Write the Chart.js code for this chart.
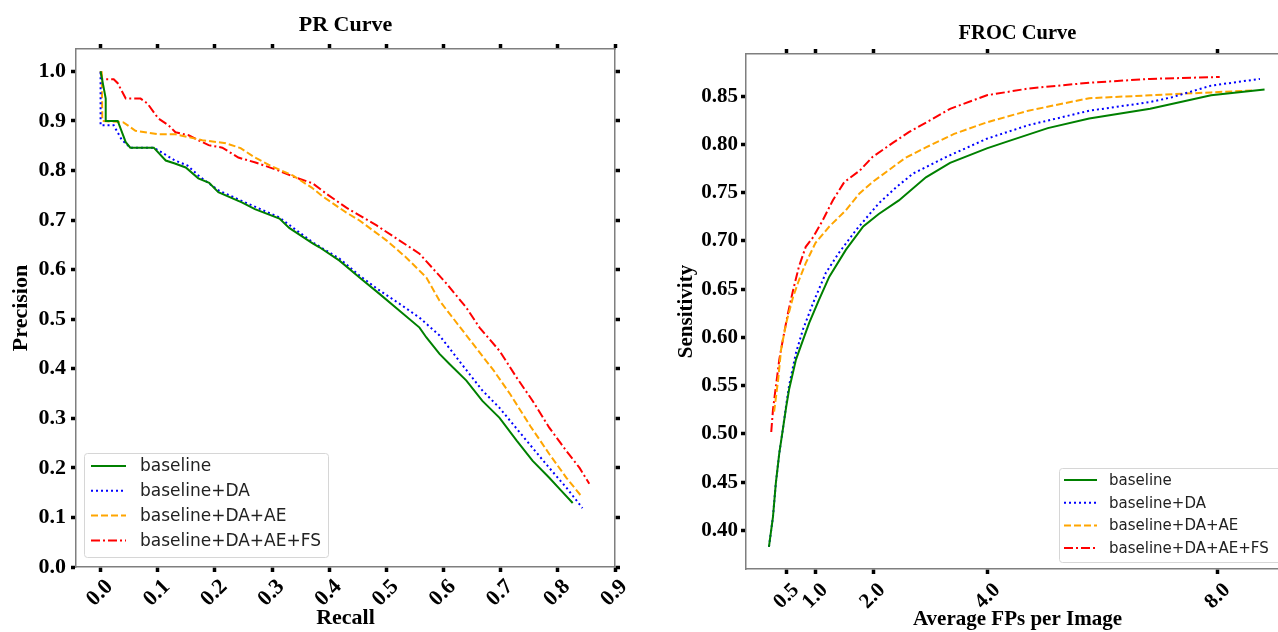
<!DOCTYPE html>
<html><head><meta charset="utf-8">
<script src="https://cdn.jsdelivr.net/npm/chart.js@4.4.0/dist/chart.umd.min.js"></script>
<style>
html,body{margin:0;padding:0;background:#fff;overflow:hidden;width:1278px;height:632px;position:relative;}
#c1{position:absolute;left:0;top:0;}
#c2{position:absolute;left:640px;top:0;}
</style></head><body>
<canvas id="c1" width="640" height="632"></canvas>
<canvas id="c2" width="649" height="632"></canvas>
<script>
// ---------- labels ----------
const seriesNames = ['baseline', 'baseline+DA', 'baseline+DA+AE', 'baseline+DA+AE+FS'];
const prTicksX = [0.0, 0.1, 0.2, 0.3, 0.4, 0.5, 0.6, 0.7, 0.8, 0.9];
const prTicksY = [0.0, 0.1, 0.2, 0.3, 0.4, 0.5, 0.6, 0.7, 0.8, 0.9, 1.0];
const frocTicksX = [0.5, 1.0, 2.0, 4.0, 8.0];
const frocTicksY = [0.40, 0.45, 0.50, 0.55, 0.60, 0.65, 0.70, 0.75, 0.80, 0.85];

// ---------- PR curve data ----------
const prBaseRecall = [0, 0.009, 0.009, 0.030, 0.044, 0.052, 0.093, 0.114, 0.13, 0.149, 0.171, 0.19, 0.206, 0.248, 0.27, 0.313, 0.33, 0.371, 0.383, 0.418, 0.453, 0.488, 0.523, 0.558, 0.570, 0.593, 0.61, 0.64, 0.668, 0.698, 0.728, 0.756, 0.785, 0.805, 0.826];
const prBasePrec   = [1.0, 0.945, 0.90, 0.90, 0.857, 0.846, 0.846, 0.82, 0.814, 0.806, 0.784, 0.775, 0.756, 0.735, 0.722, 0.703, 0.684, 0.653, 0.645, 0.618, 0.584, 0.551, 0.517, 0.483, 0.463, 0.43, 0.41, 0.376, 0.335, 0.301, 0.255, 0.214, 0.18, 0.155, 0.129];

const prDaRecall = [0, 0.0, 0.023, 0.037, 0.052, 0.093, 0.102, 0.13, 0.152, 0.173, 0.206, 0.248, 0.313, 0.371, 0.418, 0.453, 0.488, 0.523, 0.558, 0.593, 0.628, 0.668, 0.698, 0.728, 0.756, 0.785, 0.815, 0.843];
const prDaPrec   = [0.998, 0.891, 0.891, 0.862, 0.846, 0.846, 0.84, 0.82, 0.81, 0.788, 0.76, 0.738, 0.705, 0.655, 0.622, 0.588, 0.558, 0.531, 0.503, 0.467, 0.415, 0.356, 0.321, 0.279, 0.24, 0.2, 0.16, 0.119];

const prAeRecall = [0.002, 0.003, 0.04, 0.061, 0.10, 0.131, 0.178, 0.219, 0.245, 0.27, 0.30, 0.336, 0.37, 0.388, 0.402, 0.43, 0.453, 0.50, 0.535, 0.57, 0.593, 0.616, 0.657, 0.688, 0.717, 0.752, 0.785, 0.815, 0.841];
const prAePrec   = [1.0, 0.90, 0.897, 0.88, 0.873, 0.873, 0.861, 0.855, 0.845, 0.826, 0.808, 0.79, 0.765, 0.748, 0.737, 0.715, 0.699, 0.659, 0.624, 0.584, 0.537, 0.503, 0.442, 0.396, 0.348, 0.284, 0.228, 0.18, 0.143];

const prFsRecall = [0.0, 0.003, 0.023, 0.03, 0.044, 0.07, 0.082, 0.101, 0.119, 0.131, 0.154, 0.171, 0.189, 0.213, 0.241, 0.271, 0.311, 0.336, 0.371, 0.395, 0.43, 0.483, 0.52, 0.558, 0.605, 0.64, 0.663, 0.698, 0.728, 0.756, 0.785, 0.815, 0.838, 0.855];
const prFsPrec   = [1.0, 0.984, 0.984, 0.976, 0.945, 0.945, 0.935, 0.905, 0.891, 0.877, 0.871, 0.861, 0.851, 0.846, 0.826, 0.816, 0.80, 0.788, 0.774, 0.753, 0.725, 0.689, 0.661, 0.632, 0.572, 0.523, 0.483, 0.436, 0.382, 0.335, 0.281, 0.234, 0.2, 0.168];

// ---------- FROC curve data ----------
const frocBaseFp   = [0.19, 0.26, 0.31, 0.37, 0.43, 0.49, 0.54, 0.66, 0.78, 0.89, 1.06, 1.24, 1.53, 1.83, 2.1, 2.45, 2.92, 3.34, 3.98, 4.33, 5.04, 5.76, 6.82, 7.88, 8.81];
const frocBaseSens = [0.383, 0.414, 0.449, 0.48, 0.504, 0.528, 0.546, 0.577, 0.597, 0.615, 0.639, 0.663, 0.691, 0.715, 0.728, 0.742, 0.766, 0.781, 0.796, 0.803, 0.817, 0.827, 0.837, 0.851, 0.857];

const frocDaFp   = [0.19, 0.26, 0.31, 0.37, 0.43, 0.49, 0.54, 0.66, 0.78, 0.96, 1.18, 1.41, 1.7, 2.1, 2.41, 2.7, 3.27, 3.98, 4.7, 5.76, 6.82, 7.2, 7.88, 8.73];
const frocDaSens = [0.383, 0.414, 0.449, 0.48, 0.504, 0.53, 0.55, 0.584, 0.608, 0.636, 0.667, 0.688, 0.711, 0.739, 0.756, 0.77, 0.787, 0.806, 0.82, 0.835, 0.844, 0.849, 0.861, 0.868];

const frocAeFp   = [0.28, 0.35, 0.40, 0.49, 0.61, 0.71, 0.83, 1.0, 1.24, 1.53, 1.76, 1.99, 2.56, 2.92, 3.41, 3.98, 4.7, 5.76, 6.82, 7.88, 8.59];
const frocAeSens = [0.523, 0.556, 0.587, 0.615, 0.642, 0.659, 0.677, 0.698, 0.715, 0.732, 0.749, 0.761, 0.786, 0.797, 0.811, 0.823, 0.835, 0.848, 0.851, 0.854, 0.856];

const frocFsFp   = [0.23, 0.26, 0.31, 0.37, 0.43, 0.52, 0.61, 0.71, 0.83, 0.96, 1.13, 1.3, 1.5, 1.77, 1.99, 2.35, 2.63, 2.99, 3.34, 3.98, 4.7, 5.76, 6.82, 8.03];
const frocFsSens = [0.502, 0.525, 0.549, 0.577, 0.597, 0.625, 0.649, 0.673, 0.694, 0.704, 0.722, 0.742, 0.761, 0.773, 0.787, 0.802, 0.813, 0.825, 0.837, 0.851, 0.858, 0.864, 0.868, 0.87];

// ---------- styles ----------
const styles = [
  {color: '#008000', dash: []},
  {color: '#0000ff', dash: [2, 3]},
  {color: '#ffa500', dash: [7, 3]},
  {color: '#ff0000', dash: [9, 3, 2, 3]}
];
const pts = (xs, ys) => xs.map((x, i) => ({x: x, y: ys[i]}));
function makeDatasets(pairs) {
  return pairs.map((p, i) => ({
    label: seriesNames[i],
    data: pts(p[0], p[1]),
    showLine: true,
    borderColor: styles[i].color,
    borderDash: styles[i].dash,
    borderWidth: 2,
    pointRadius: 0,
    fill: false,
    tension: 0,
    xAxisID: 'x', yAxisID: 'y'
  }));
}

const serif = (size) => ({family: '"Liberation Serif", "Times New Roman", serif', size: size, weight: 'bold'});

const boxLegend = {
  id: 'boxLegend',
  afterDatasetsDraw(chart, args, o) {
    const ctx = chart.ctx, ca = chart.chartArea;
    const x0 = ca.left + o.dx, y0 = ca.bottom - o.dy - o.h;
    ctx.save();
    ctx.beginPath();
    ctx.roundRect(x0 + 0.5, y0 + 0.5, o.w, o.h, 3);
    ctx.fillStyle = 'rgba(255,255,255,0.85)';
    ctx.fill();
    ctx.strokeStyle = '#d6d6d6';
    ctx.lineWidth = 1;
    ctx.stroke();
    chart.data.datasets.forEach((ds, i) => {
      const y = y0 + o.first + i * o.row;
      ctx.beginPath();
      ctx.setLineDash(ds.borderDash || []);
      ctx.strokeStyle = ds.borderColor;
      ctx.lineWidth = ds.borderWidth;
      ctx.moveTo(x0 + o.s0, y);
      ctx.lineTo(x0 + o.s0 + o.sl, y);
      ctx.stroke();
      ctx.setLineDash([]);
      ctx.fillStyle = '#222';
      ctx.font = o.size + 'px "DejaVu Sans"';
      ctx.textBaseline = 'middle';
      ctx.textAlign = 'left';
      ctx.fillText(ds.label, x0 + o.tx, y + 1);
    });
    ctx.restore();
  }
};

const gridOpts = {drawOnChartArea: false, drawTicks: true, tickLength: 5, tickWidth: 3.5, tickColor: '#000'};
const borderOpts = {display: true, color: '#7f7f7f', width: 1.5};

function axis(o) {
  const a = {
    type: 'linear', position: o.position, min: o.min, max: o.max,
    afterBuildTicks: s => { s.ticks = o.ticks.map(v => ({value: v})); },
    afterFit: s => { if (o.position === 'top' || o.position === 'bottom') s.height = o.size; else s.width = o.size; },
    grid: gridOpts,
    border: borderOpts,
    ticks: {
      display: !!o.showLabels, autoSkip: false, color: '#000', font: serif(o.font || 21),
      padding: o.pad || 0, labelOffset: o.labelOffset || 0,
      callback: v => v.toFixed(o.dec || 1)
    },
    title: o.title ? {display: true, text: o.title, color: '#000', font: serif(o.font || 21), padding: o.titlePad} : {display: false}
  };
  if (o.rot) { a.ticks.minRotation = 45; a.ticks.maxRotation = 45; }
  return a;
}

new Chart(document.getElementById('c1'), {
  type: 'scatter',
  data: {datasets: makeDatasets([[prBaseRecall, prBasePrec], [prDaRecall, prDaPrec], [prAeRecall, prAePrec], [prFsRecall, prFsPrec]])},
  options: {
    responsive: false, animation: false, events: [],
    layout: {padding: 0},
    plugins: {
      legend: {display: false}, tooltip: {enabled: false},
      title: {display: true, fullSize: false, text: 'PR Curve', color: '#000', font: serif(22), padding: {top: 12, bottom: 0}},
      boxLegend: {dx: 8, dy: 10, w: 244, h: 104, first: 13, row: 24.8, s0: 7, sl: 35, tx: 56, size: 17}
    },
    scales: {
      x: axis({position: 'bottom', min: -0.043, max: 0.9, ticks: prTicksX, size: 65, font: 22, showLabels: true, rot: true, pad: 2, labelOffset: 9, title: 'Recall', titlePad: {top: 0, bottom: 0}}),
      x2: axis({position: 'top', min: -0.043, max: 0.9, ticks: prTicksX, size: 10.6}),
      y: axis({position: 'left', min: 0, max: 1.045, ticks: prTicksY, size: 76, font: 22, showLabels: true, pad: 5, title: 'Precision', titlePad: {top: 8, bottom: 0}}),
      y2: axis({position: 'right', min: 0, max: 1.045, ticks: prTicksY, size: 25})
    }
  },
  plugins: [boxLegend]
});

new Chart(document.getElementById('c2'), {
  type: 'scatter',
  data: {datasets: makeDatasets([[frocBaseFp, frocBaseSens], [frocDaFp, frocDaSens], [frocAeFp, frocAeSens], [frocFsFp, frocFsSens]])},
  options: {
    responsive: false, animation: false, events: [],
    layout: {padding: 0},
    plugins: {
      legend: {display: false}, tooltip: {enabled: false},
      title: {display: true, fullSize: false, text: 'FROC Curve', color: '#000', font: serif(20.5), padding: {top: 21, bottom: 0}},
      boxLegend: {dx: 313, dy: 7, w: 223, h: 94, first: 12, row: 22.7, s0: 5, sl: 33, tx: 50, size: 15}
    },
    scales: {
      x: axis({position: 'bottom', min: -0.209, max: 9.235, ticks: frocTicksX, size: 63, showLabels: true, rot: true, pad: 4, labelOffset: 9, title: 'Average FPs per Image', titlePad: {top: 0, bottom: 0}}),
      x2: axis({position: 'top', min: -0.209, max: 9.235, ticks: frocTicksX, size: 8.4}),
      y: axis({position: 'left', min: 0.36, max: 0.8938, ticks: frocTicksY, size: 106, showLabels: true, pad: 3, dec: 2, title: 'Sensitivity', titlePad: {top: 34, bottom: 0}}),
      y2: axis({position: 'right', min: 0.36, max: 0.8938, ticks: frocTicksY, size: 0.01})
    }
  },
  plugins: [boxLegend]
});
</script>
</body></html>
